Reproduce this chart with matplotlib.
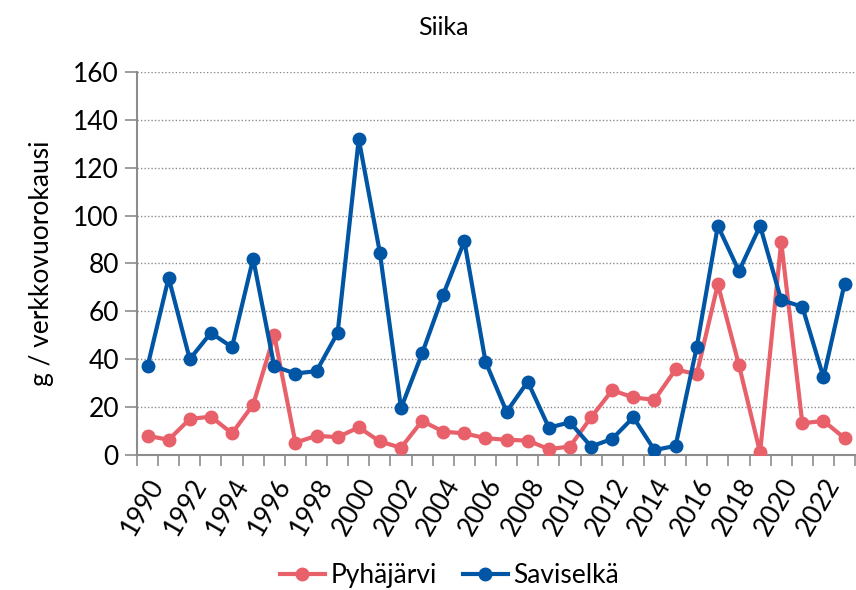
import numpy as np
import matplotlib
matplotlib.use('Agg')
import matplotlib.pyplot as plt

years = list(range(1990, 2024))
pyhajarvi = [8, 6.3, 15, 16, 9, 21, 50, 5.1, 8, 7.4, 11.5, 5.6, 3, 14.2, 9.7, 9,
             7, 6.3, 6, 2.4, 3.5, 15.7, 27, 24, 23, 35.7, 33.7, 71.3, 37.5, 1, 89,
             13.2, 14.2, 7]
saviselka = [37, 74, 40, 51, 45, 82, 37, 34, 35, 51, 132, 84.5, 19.5, 42.4, 67, 89.3,
             39, 18, 30.6, 11.4, 13.6, 3.5, 6.7, 15.7, 2, 3.8, 45, 95.7, 76.8, 95.7,
             64.7, 61.9, 32.4, 71.6]
yticks = [0, 20, 40, 60, 80, 100, 120, 140, 160]

plt.rcParams['font.family'] = ['Lato', 'DejaVu Sans']

fig = plt.figure(figsize=(8.56, 5.9), dpi=100)
ax = fig.add_axes([0.160, 0.229, 0.839, 0.649])

x = np.arange(len(years))
red = '#E8606A'
blue = '#0055A4'
ax.plot(x, pyhajarvi, color=red, lw=3, marker='o', ms=9, label='Pyhäjärvi', zorder=3)
ax.plot(x, saviselka, color=blue, lw=3, marker='o', ms=9, label='Saviselkä', zorder=4)

ax.set_xlim(-0.5, len(years) - 0.5)
ax.set_ylim(0, 160)
ax.set_yticks(yticks)
ax.yaxis.grid(True, color='#8c8c8c', linestyle=(0, (1, 1.5)), lw=1)
ax.set_axisbelow(True)

# labels on every other year, tick marks between categories
ax.set_xticks(x[::2])
ax.set_xticklabels([str(y) for y in years[::2]], rotation=60, ha='right',
                   rotation_mode='anchor')
ax.set_xticks(np.arange(-0.5, len(years)), minor=True)
ax.tick_params(axis='x', which='major', length=0, pad=14, labelsize=19)
ax.tick_params(axis='x', which='minor', length=8, color='#8c8c8c', width=1.2)
ax.tick_params(axis='y', length=9, color='#8c8c8c', width=1.2, labelsize=19, pad=4)

for s in ['top', 'right']:
    ax.spines[s].set_visible(False)
for s in ['left', 'bottom']:
    ax.spines[s].set_color('#8c8c8c')
    ax.spines[s].set_linewidth(1.5)

ax.set_ylabel('g / verkkovuorokausi', fontsize=19, labelpad=14)
fig.text(0.518, 0.953, 'Siika', ha='center', va='center', fontsize=18)

fig.legend(loc='center', bbox_to_anchor=(0.525, 0.025), ncol=2, frameon=False,
           fontsize=19, handlelength=1.7, handletextpad=0.2, columnspacing=1.0)

fig.savefig('out.png', dpi=100)
